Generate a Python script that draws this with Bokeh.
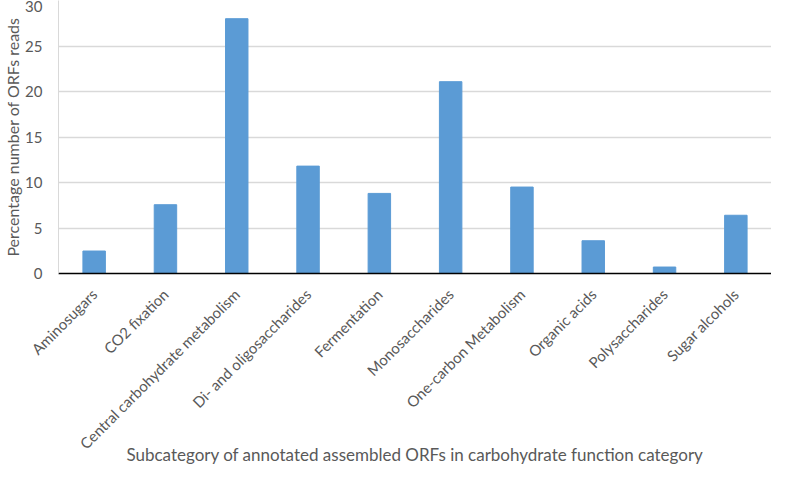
import math
from bokeh.plotting import figure
from bokeh.models import ColumnDataSource, FactorRange, Range1d, FixedTicker
from bokeh.embed import file_html
from bokeh.resources import INLINE

categories = ["Aminosugars", "CO2 fixation", "Central carbohydrate metabolism",
              "Di- and oligosaccharides", "Fermentation", "Monosaccharides",
              "One-carbon Metabolism", "Organic acids", "Polysaccharides",
              "Sugar alcohols"]
values = [2.47, 7.56, 28.0, 11.8, 8.8, 21.08, 9.5, 3.6, 0.71, 6.4]
y_ticks = [0, 5, 10, 15, 20, 25, 30]

FONT = "Lato"
src = ColumnDataSource(dict(cat=categories, val=values))

p = figure(width=771, height=467, x_range=FactorRange(*categories, range_padding=0),
           y_range=Range1d(0, 30), output_backend="svg", toolbar_location=None,
           min_border_top=0, min_border_right=0, min_border_left=0, min_border_bottom=0)
p.vbar(x="cat", top="val", width=0.315, source=src, color="#5B9BD5")

p.outline_line_color=None
p.xgrid.grid_line_color=None
p.ygrid.grid_line_color="#D9D9D9"
p.ygrid.grid_line_width=1.5
p.yaxis.ticker = FixedTicker(ticks=y_ticks)
p.yaxis.major_tick_line_color=None
p.yaxis.minor_tick_line_color=None
p.yaxis.axis_line_color="#D9D9D9"
p.xaxis.major_tick_line_color=None
p.xaxis.axis_line_color="#000000"
p.xaxis.axis_line_width=1.5
p.xaxis.major_label_orientation = math.pi/4
for ax in (p.xaxis, p.yaxis):
    ax.major_label_text_font = FONT
    ax.major_label_text_color = "#595959"
    ax.major_label_text_font_size = "15px"
    ax.axis_label_text_font = FONT
    ax.axis_label_text_font_style = "normal"
    ax.axis_label_text_color = "#595959"
p.yaxis.axis_label_text_font_size = "16px"
p.xaxis.axis_label_text_font_size = "17px"
p.xaxis.axis_label_text_line_height = 0.6
p.yaxis.axis_label = "Percentage number of ORFs reads"
p.xaxis.axis_label = "Subcategory of annotated assembled ORFs in carbohydrate function category"
p.yaxis.major_label_standoff = 10
p.yaxis.axis_label_standoff = 0
p.xaxis.major_label_standoff = 12
p.xaxis.axis_label_standoff = -18

open("out.html", "w").write(file_html(p, INLINE))
